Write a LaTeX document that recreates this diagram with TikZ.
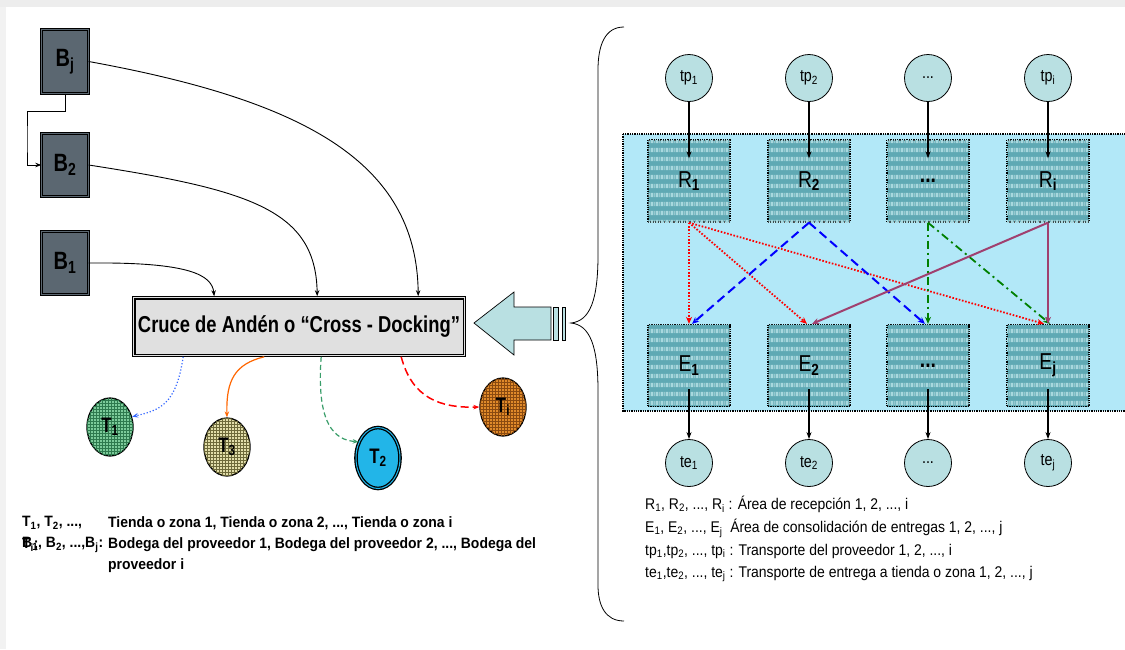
\documentclass[tikz,border=0pt]{standalone}
\usepackage{fontspec}
\setmainfont{Liberation Sans}
\newfontfamily\nA[FakeStretch=0.80]{Liberation Sans}
\newfontfamily\nB[FakeStretch=0.84]{Liberation Sans}
\newfontfamily\nC[FakeStretch=0.90]{Liberation Sans}
\newfontfamily\nD[FakeStretch=0.93]{Liberation Sans}
\usetikzlibrary{arrows.meta,patterns,patterns.meta,calc,shapes.geometric}
\definecolor{slate}{HTML}{5B6771}
\definecolor{cdgray}{HTML}{E0E0E0}
\definecolor{arrowblue}{HTML}{B9E0E2}
\definecolor{panelblue}{HTML}{B2E8F8}
\definecolor{rteal}{HTML}{5FA9B4}
\definecolor{rlight}{HTML}{A8D8DE}
\definecolor{tpfill}{HTML}{B9E0E2}
\definecolor{t1fill}{HTML}{7CCB9A}
\definecolor{t1pat}{HTML}{2E7A4E}
\definecolor{t3fill}{HTML}{E2DEAA}
\definecolor{t3pat}{HTML}{6E6A3A}
\definecolor{t2fill}{HTML}{22B5E8}
\definecolor{tifill}{HTML}{E08A2A}
\definecolor{tipat}{HTML}{8A4A10}
\definecolor{dkgreen}{HTML}{008000}
\definecolor{purp}{HTML}{A0406F}
\definecolor{orangeA}{HTML}{FF6600}
\definecolor{greenA}{HTML}{3A9E6A}
\definecolor{blueA}{HTML}{3366FF}
\newcommand\sbs[1]{\textsubscript{#1}}
\tikzdeclarepattern{
  name=weave, type=colored,
  bounding box={(0pt,0pt) and (5pt,9pt)},
  tile size={(5pt,9pt)},
  code={\fill[rlight] (0.8pt,2pt) rectangle (4.1pt,6.8pt);}
}
\begin{document}
\begin{tikzpicture}[x=1pt,y=-1pt,
  bbox/.style={draw=black, line width=0.9pt, double=slate, double distance=1.4pt, fill=slate,
    minimum width=46.5pt, minimum height=63.5pt, inner sep=0pt,
    font=\nA\bfseries\fontsize{25}{25}\selectfont},
  cdbox/.style={draw=black, line width=1.1pt, double=cdgray, double distance=1.3pt, fill=cdgray,
    minimum width=330.5pt, minimum height=57.5pt, inner sep=0pt,
    font=\nA\bfseries\fontsize{23}{23}\selectfont},
  tnode/.style 2 args={ellipse, draw=black, line width=1.3pt, fill=#1,
    postaction={pattern=grid, pattern color=#2},
    minimum width=46pt, minimum height=58pt, inner sep=0pt,
    font=\nA\bfseries\fontsize{21}{21}\selectfont},
  rebox/.style={draw=black, densely dotted, line width=1.3pt, fill=rteal,
    postaction={pattern=weave},
    minimum width=82pt, minimum height=82pt, inner sep=0pt,
    font=\nB\fontsize{23}{23}\selectfont},
  tcirc/.style={circle, draw=black, line width=0.8pt, fill=tpfill, minimum size=47pt, inner sep=0pt,
    font=\nB\fontsize{17}{17}\selectfont},
  blk/.style={-{Stealth[length=7pt,width=5pt]}, line width=1.2pt, black},
  thin/.style={-{Stealth[length=6pt,width=4.5pt]}, line width=0.9pt, black},
  redd/.style={-{Stealth[length=7pt,width=6pt]}, red, line width=1.8pt, dash pattern=on 1.6pt off 1.7pt},
  blued/.style={-{Stealth[length=7pt,width=6pt]}, blue, line width=2pt, dash pattern=on 9pt off 5pt},
  greend/.style={-{Stealth[length=7pt,width=6pt]}, dkgreen, line width=1.8pt, dash pattern=on 8pt off 4pt on 2pt off 4pt},
  purpd/.style={-{Stealth[length=7pt,width=6pt]}, purp, line width=2pt},
  lgl/.style={anchor=west, inner sep=0pt, font=\nD\bfseries\fontsize{15}{15}\selectfont},
  lgr/.style={anchor=west, inner sep=0pt, font=\nC\fontsize{15.5}{15.5}\selectfont}
]
\useasboundingbox (0,0) rectangle (1125,649);
\fill[white] (0,0) rectangle (1125,649);
\fill[black!7] (0,0) rectangle (1125,7);
\fill[black!5] (0,7) rectangle (6,649);

% ---------- left part ----------
\node[bbox] (Bj) at (65,61.5) {B\sbs{j}};
\node[bbox] (B2) at (65,165) {B\sbs{2}};
\node[bbox] (B1) at (65,263) {B\sbs{1}};
\node[cdbox] (cd) at (299,326.5) {Cruce de Andén o “Cross - Docking”};

\draw[thin] (Bj.south) -- ++(0,18) -| (27,140) |- (B2.west);
\draw[thin] (Bj.east) .. controls (300,100) and (417,160) .. ($(cd.north west)+(285,-1)$);
\draw[thin] (B2.east) .. controls (250,190) and (316,210) .. ($(cd.north west)+(184,-1)$);
\draw[thin] (B1.east) .. controls (190,262) and (212,275) .. ($(cd.north west)+(81,-1)$);

\node[tnode={t1fill}{t1pat}] (T1) at (110,427) {T\sbs{1}};
\node[tnode={t3fill}{t3pat}] (T3) at (227,447) {T\sbs{3}};
\node[ellipse, draw=black, line width=1.3pt, double=t2fill, double distance=1pt, fill=t2fill,
  minimum width=44pt, minimum height=61pt, inner sep=0pt,
  font=\nA\bfseries\fontsize{21}{21}\selectfont] (T2) at (378,458) {T\sbs{2}};
\node[tnode={tifill}{tipat}] (Ti) at (503,407) {T\sbs{i}};

\draw[-{Stealth[length=6pt,width=4.5pt]}, blueA, line width=1.2pt, dotted]
  ($(cd.south west)+(50,1)$) .. controls (176,405) and (160,410) .. (T1.25);
\draw[-{Stealth[length=6pt,width=4.5pt]}, orangeA, line width=1.2pt]
  ($(cd.south west)+(131,1)$) .. controls (235,364) and (226,380) .. (T3.north);
\draw[-{Stealth[length=6pt,width=4.5pt]}, greenA, line width=1.2pt, dash pattern=on 5pt off 3pt]
  ($(cd.south west)+(188,1)$) .. controls (316,425) and (335,440) .. (T2.140);
\draw[-{Stealth[length=6pt,width=4.5pt]}, red, line width=1.5pt, dash pattern=on 8pt off 4pt]
  ($(cd.south west)+(268,1)$) .. controls (412,398) and (440,408) .. (Ti.west);

% big arrow
\draw[black, line width=0.7pt, fill=arrowblue]
  (474,323) -- (514,292) -- (514,307) -- (551,307) -- (551,340) -- (514,340) -- (514,355) -- cycle;
\draw[black, line width=0.7pt, fill=arrowblue] (553.5,307) rectangle (558,340);
\draw[black, line width=0.7pt, fill=arrowblue] (562,307) rectangle (565.5,340);

% brace
\draw[black, line width=0.8pt]
  (624,27) .. controls (605,27) and (598,45) .. (598,70) -- (598,255)
  .. controls (598,300) and (590,321) .. (571,323)
  .. controls (590,325) and (598,346) .. (598,391) -- (598,585)
  .. controls (598,605) and (605,621) .. (624,621);

% ---------- right part ----------
\draw[fill=panelblue, densely dotted, line width=1.3pt] (623,134) rectangle (1132,411);

\node[tcirc] (tp1) at (689,78) {tp\sbs{1}};
\node[tcirc] (tp2) at (809,78) {tp\sbs{2}};
\node[tcirc] (tp3) at (928,78) {...};
\node[tcirc] (tpi) at (1048,78) {tp\sbs{i}};

\node[rebox] (R1) at (689,181) {R\sbs{\bfseries 1}};
\node[rebox] (R2) at (809,181) {R\sbs{\bfseries 2}};
\node[rebox] (R3) at (928,181) {\bfseries ...};
\node[rebox] (Ri) at (1048,181) {R\sbs{\bfseries i}};

\node[rebox] (E1) at (689,365.5) {E\sbs{\bfseries 1}};
\node[rebox] (E2) at (809,365.5) {E\sbs{\bfseries 2}};
\node[rebox] (E3) at (928,365.5) {\bfseries ...};
\node[rebox] (Ej) at (1048,365.5) {E\sbs{\bfseries j}};

\node[tcirc] (te1) at (689,463) {te\sbs{1}};
\node[tcirc] (te2) at (809,463) {te\sbs{2}};
\node[tcirc] (te3) at (928,463) {...};
\node[tcirc] (tej) at (1048,463) {te\sbs{j}};

\foreach \a/\b in {tp1/R1,tp2/R2,tp3/R3,tpi/Ri}
  \draw[blk] (\a) -- ($(\b.north)+(0,19)$);
\foreach \a/\b in {E1/te1,E2/te2,E3/te3,Ej/tej}
  \draw[blk] ($(\a.south)+(0,-18)$) -- (\b);

\draw[redd] (R1.south) -- (E1.north);
\draw[redd] (R1.south) -- ($(E2.north)+(-2,0)$);
\draw[redd] (R1.south) -- ($(Ej.north)+(-4,0)$);
\draw[blued] (R2.south) -- ($(E1.north)+(3,0)$);
\draw[blued] (R2.south) -- ($(E3.north)+(-3,0)$);
\draw[greend] (R3.south) -- (E3.north);
\draw[greend] (R3.south) -- ($(Ej.north)+(2,0)$);
\draw[purpd] (Ri.south) -- ($(E2.north)+(3,0)$);
\draw[purpd] (Ri.south) -- (Ej.north);

% ---------- legends ----------
\node[lgl] (l1a) at (22,523) {T\sbs{1}, T\sbs{2}, ...,};
\node[lgl] (l1b) at (108,523) {Tienda o zona 1, Tienda o zona 2, ..., Tienda o zona i};
\node[lgl] (l2x) at (22,545) {T\sbs{i};};
\node[lgl] (l2a) at (22,545) {B\sbs{1}, B\sbs{2}, ...,B\sbs{j}:};
\node[lgl] (l2b) at (108,545) {Bodega del proveedor 1, Bodega del proveedor 2, ..., Bodega del};
\node[lgl] (l3) at (108,566) {proveedor i};

\node[lgr] (r1) at (645,504) {R\sbs{1}, R\sbs{2}, ..., R\sbs{i} : Área de recepción 1, 2, ..., i};
\node[lgr] (r2) at (645,528) {E\sbs{1}, E\sbs{2}, ..., E\sbs{j}\enspace Área de consolidación de entregas 1, 2, ..., j};
\node[lgr] (r3) at (645,551) {tp\sbs{1},tp\sbs{2}, ..., tp\sbs{i} : Transporte del proveedor 1, 2, ..., i};
\node[lgr] (r4) at (645,574) {te\sbs{1},te\sbs{2}, ..., te\sbs{j} : Transporte de entrega a tienda o zona 1, 2, ..., j};
\end{tikzpicture}
\end{document}
